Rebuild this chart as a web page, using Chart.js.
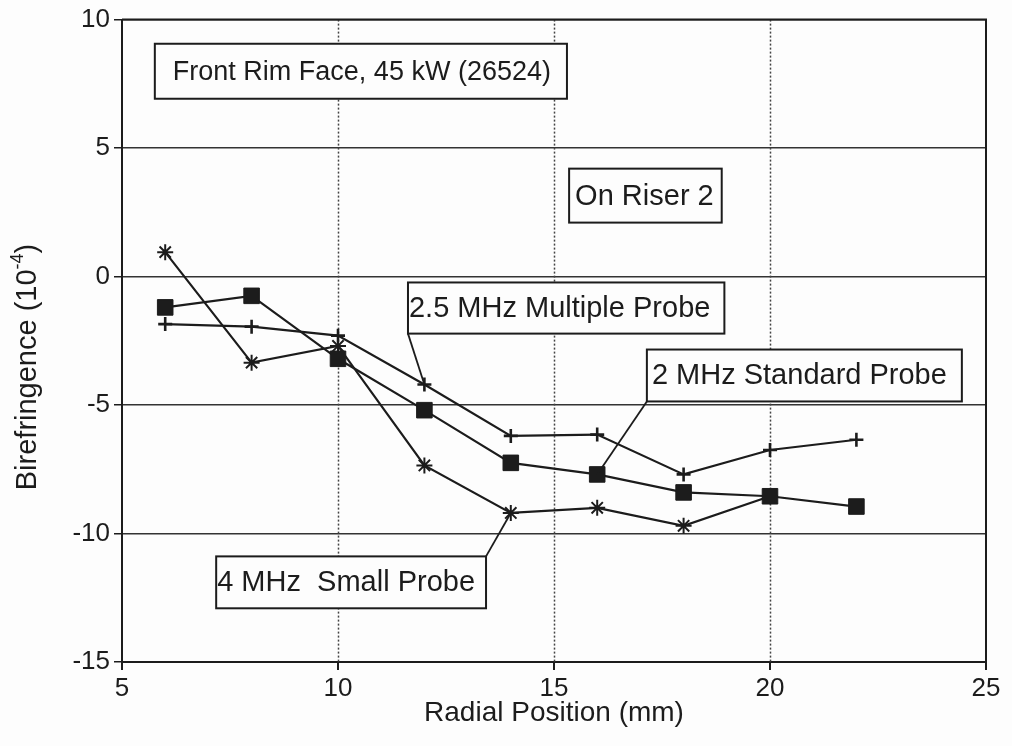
<!DOCTYPE html>
<html>
<head>
<meta charset="utf-8">
<script src="https://cdn.jsdelivr.net/npm/chart.js@4.4.0/dist/chart.umd.min.js"></script>
<style>
  html, body { margin: 0; padding: 0; background: #fdfdfd; }
  #wrap { width: 1012px; height: 746px; }
</style>
</head>
<body>
<div id="wrap"><canvas id="c" width="1012" height="746"></canvas></div>
<script>
// Radial positions (mm) and birefringence (10^-4) for each probe
const radialPositions = [6, 8, 10, 12, 14, 16, 18, 20, 22];
const standardProbe  = [-1.2, -0.75, -3.2, -5.2, -7.25, -7.7, -8.4, -8.55, -8.95];
const multipleProbe  = [-1.85, -1.95, -2.3, -4.2, -6.2, -6.15, -7.7, -6.75, -6.35];
const smallProbe     = [0.95, -3.35, -2.7, -7.35, -9.2, -9.0, -9.7, -8.55];

const seriesNames = ['2 MHz Standard Probe', '2.5 MHz Multiple Probe', '4 MHz  Small Probe'];
const xTickValues = [5, 10, 15, 20, 25];
const yTickValues = [-15, -10, -5, 0, 5, 10];

const FONT = '"Liberation Sans", Arial, Helvetica, sans-serif';
const INK = '#1c1c1c';

function pairs(xs, ys) { return ys.map((y, i) => ({ x: xs[i], y })); }

// Boxed notes; box edges in axis units, leaders point at a dataset point
const notes = [
  { text: 'Front Rim Face, 45 kW (26524)', size: 27, x0: 5.76, yTop: 9.06, yBot: 6.92, padL: 18, padR: 16 },
  { text: 'On Riser 2', size: 29, x0: 15.35, yTop: 4.2, yBot: 2.1, padL: 6, padR: 8 },
  { text: seriesNames[1], size: 29, x0: 11.62, yTop: -0.23, yBot: -2.22, padL: 1, padR: 14,
    leader: { corner: 'bl', dataset: 1, index: 3 } },
  { text: seriesNames[0], size: 29, x0: 17.15, yTop: -2.84, yBot: -4.86, padL: 5, padR: 15,
    leader: { corner: 'bl', dataset: 0, index: 5 } },
  { text: seriesNames[2], size: 29, x0: 7.18, yTop: -10.89, yBot: -12.91, padL: 1, padR: 11,
    leader: { corner: 'tr', dataset: 2, index: 4 } }
];

const framePlugin = {
  id: 'frame',
  beforeDraw(chart) {
    const ctx = chart.ctx;
    ctx.save();
    ctx.fillStyle = '#fdfdfd';
    ctx.fillRect(0, 0, chart.width, chart.height);
    ctx.restore();
  },
  beforeDatasetsDraw(chart) {
    const { ctx, chartArea: a, scales } = chart;
    ctx.save();
    // dotted verticals at interior x ticks
    ctx.strokeStyle = '#444';
    ctx.lineWidth = 1.5;
    ctx.setLineDash([2, 2]);
    xTickValues.slice(1, -1).forEach(v => {
      const px = Math.round(scales.x.getPixelForValue(v)) + 0.5;
      ctx.beginPath();
      ctx.moveTo(px, a.top);
      ctx.lineTo(px, a.bottom);
      ctx.stroke();
    });
    // top and right frame
    ctx.setLineDash([]);
    ctx.strokeStyle = INK;
    ctx.lineWidth = 2;
    ctx.beginPath();
    ctx.moveTo(a.left, a.top);
    ctx.lineTo(a.right, a.top);
    ctx.lineTo(a.right, a.bottom);
    ctx.stroke();
    ctx.restore();
  },
  afterDatasetsDraw(chart) {
    const { ctx, scales } = chart;
    ctx.save();
    notes.forEach(n => {
      ctx.font = n.size + 'px ' + FONT;
      const w = ctx.measureText(n.text).width;
      const left = scales.x.getPixelForValue(n.x0);
      const top = scales.y.getPixelForValue(n.yTop);
      const bot = scales.y.getPixelForValue(n.yBot);
      const right = left + n.padL + w + n.padR;
      if (n.leader) {
        const pt = chart.getDatasetMeta(n.leader.dataset).data[n.leader.index];
        const cx = n.leader.corner === 'tr' ? right : left;
        const cy = n.leader.corner === 'tr' ? top : bot;
        ctx.strokeStyle = INK;
        ctx.lineWidth = 1.8;
        ctx.beginPath();
        ctx.moveTo(cx, cy);
        ctx.lineTo(pt.x, pt.y);
        ctx.stroke();
      }
      ctx.fillStyle = '#fdfdfd';
      ctx.fillRect(left, top, right - left, bot - top);
      ctx.strokeStyle = INK;
      ctx.lineWidth = 2;
      ctx.strokeRect(left, top, right - left, bot - top);
      ctx.fillStyle = INK;
      ctx.textBaseline = 'middle';
      ctx.textAlign = 'left';
      ctx.fillText(n.text, left + n.padL, (top + bot) / 2 + 1);
    });

    // y-axis title with superscript exponent
    const main = 'Birefringence (10', sup = '-4', tail = ')';
    ctx.font = '29px ' + FONT;
    const w1 = ctx.measureText(main).width, w3 = ctx.measureText(tail).width;
    ctx.font = '18px ' + FONT;
    const w2 = ctx.measureText(sup).width;
    const total = w1 + w2 + w3;
    ctx.translate(27, 367);
    ctx.rotate(-Math.PI / 2);
    ctx.textBaseline = 'middle';
    ctx.fillStyle = INK;
    let x = -total / 2;
    ctx.font = '29px ' + FONT;
    ctx.fillText(main, x, 1); x += w1;
    ctx.font = '18px ' + FONT;
    ctx.fillText(sup, x, -9); x += w2;
    ctx.font = '29px ' + FONT;
    ctx.fillText(tail, x, 1);
    ctx.restore();
  }
};

const lineBase = {
  borderColor: INK,
  backgroundColor: INK,
  pointBorderColor: INK,
  pointBackgroundColor: INK,
  borderWidth: 2.2,
  tension: 0,
  fill: false
};

new Chart(document.getElementById('c'), {
  type: 'line',
  data: {
    datasets: [
      Object.assign({}, lineBase, {
        label: seriesNames[0],
        data: pairs(radialPositions, standardProbe),
        pointStyle: 'rect', pointRadius: 11, pointBorderWidth: 1
      }),
      Object.assign({}, lineBase, {
        label: seriesNames[1],
        data: pairs(radialPositions, multipleProbe),
        pointStyle: 'cross', pointRadius: 7, pointBorderWidth: 2.6
      }),
      Object.assign({}, lineBase, {
        label: seriesNames[2],
        data: pairs(radialPositions, smallProbe),
        pointStyle: 'star', pointRadius: 8, pointBorderWidth: 2
      })
    ]
  },
  options: {
    responsive: false,
    animation: false,
    events: [],
    layout: { padding: { left: 0, right: 26, top: 19, bottom: 0 } },
    plugins: { legend: { display: false }, tooltip: { enabled: false } },
    scales: {
      x: {
        type: 'linear',
        min: 5, max: 25,
        afterBuildTicks: s => { s.ticks = xTickValues.map(v => ({ value: v })); },
        afterFit: s => { s.height = 84; },
        grid: { display: true, drawOnChartArea: false, drawTicks: true, tickLength: 8, tickColor: INK, lineWidth: 2 },
        border: { display: true, color: INK, width: 2 },
        ticks: { color: INK, font: { family: FONT, size: 26 }, padding: 3, maxRotation: 0 },
        title: { display: true, text: 'Radial Position (mm)', color: INK,
                 font: { family: FONT, size: 28 }, padding: { top: 0, bottom: 16 } }
      },
      y: {
        type: 'linear',
        min: -15, max: 10,
        afterBuildTicks: s => { s.ticks = yTickValues.map(v => ({ value: v })); },
        afterFit: s => { s.width = 122; },
        grid: { color: '#333', lineWidth: 1.5, drawTicks: true, tickLength: 8, tickColor: INK },
        border: { display: true, color: INK, width: 2 },
        ticks: { color: INK, font: { family: FONT, size: 26 }, padding: 4 }
      }
    }
  },
  plugins: [framePlugin]
});
</script>
</body>
</html>
